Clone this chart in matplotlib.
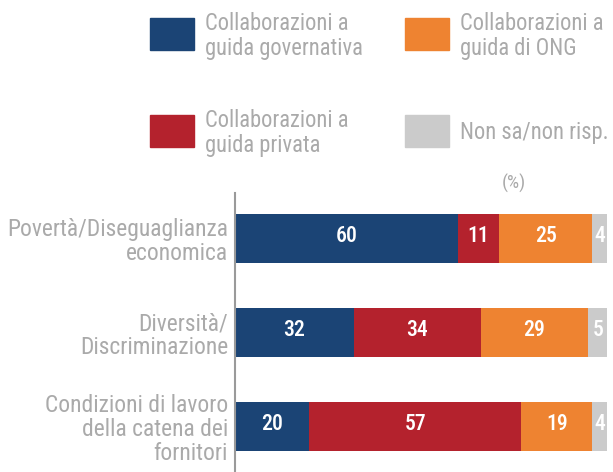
import matplotlib
matplotlib.use("Agg")
import matplotlib.pyplot as plt
from matplotlib.patches import Rectangle
from matplotlib import font_manager
import numpy as np

categories = ["Povertà/Diseguaglianza\neconomica",
              "Diversità/\nDiscriminazione",
              "Condizioni di lavoro\ndella catena dei\nfornitori"]
series_names = ["Collaborazioni a\nguida governativa",
                "Collaborazioni a\nguida privata",
                "Collaborazioni a\nguida di ONG",
                "Non sa/non risp."]
governativa = [60, 32, 20]
privata = [11, 34, 57]
ong = [25, 29, 19]
non_sa = [4, 5, 4]
series = [governativa, privata, ong, non_sa]
colors = ["#1b4475", "#b4222d", "#ee8331", "#cbcbcb"]

# pick a narrow family if one exists
names = {f.name for f in font_manager.fontManager.ttflist}
family = "Roboto"
for cand in ["Liberation Sans Narrow", "Roboto Condensed", "Open Sans Condensed",
             "DejaVu Sans Condensed", "Noto Sans Condensed"]:
    if cand in names:
        family = cand
        break
FONT = [family, "DejaVu Sans"]
plt.rcParams["font.family"] = FONT
TXT = "#aaaaaa"

W, H = 613, 472
fig = plt.figure(figsize=(W / 100, H / 100), dpi=100)
renderer = fig.canvas.get_renderer()


def fx(px):
    return px / W


def fy(py):
    return 1 - py / H


def fit_size(s, target_px, **kw):
    t = fig.text(0, 0, s, fontsize=10, **kw)
    w = t.get_window_extent(renderer).width
    t.remove()
    return 10 * target_px / w


label_fs = fit_size("Povertà/Diseguaglianza", 220)
legend_fs = fit_size("Non sa/non risp.", 148)
value_fs = fit_size("60", 22, fontweight="medium")

ax = fig.add_axes([fx(235), fy(472), fx(607) - fx(235), fy(193) - fy(472)])
y = np.arange(len(categories))
left = np.zeros(len(categories))
for vals, c in zip(series, colors):
    bars = ax.barh(y, vals, left=left, height=0.52, color=c, edgecolor="none")
    for b, v, l in zip(bars, vals, left):
        ax.text(l + v / 2, b.get_y() + b.get_height() / 2 - 0.03, str(v),
                ha="center", va="center", color="white", fontsize=value_fs,
                fontweight="medium")
    left = left + np.array(vals)

ax.set_xlim(0, 100)
ax.set_ylim(2.484, -0.484)
ax.set_yticks(y)
ax.set_yticklabels(categories, fontsize=label_fs, color=TXT, linespacing=1.05)
ax.tick_params(axis="y", length=0, pad=5)
ax.set_xticks([])
for s in ["top", "right", "bottom"]:
    ax.spines[s].set_visible(False)
ax.spines["left"].set_color("#9a9a9a")
ax.spines["left"].set_linewidth(1.5)
ax.set_facecolor("none")

# legend (manual layout)
leg_pos = [(150, 18), (150, 115), (405, 18), (405, 115)]
for (px, py), name, c in zip(leg_pos, series_names, colors):
    fig.add_artist(Rectangle((fx(px), fy(py + 32)), fx(44), 32 / H,
                             transform=fig.transFigure, color=c))
    fig.text(fx(px + 55), fy(py + 18), name, ha="left", va="center",
             fontsize=legend_fs, color=TXT, linespacing=1.1)

fig.text(fx(514), fy(183), "(%)", ha="center", va="center",
         fontsize=legend_fs * 0.85, color=TXT)

fig.savefig("out.png", dpi=100)
